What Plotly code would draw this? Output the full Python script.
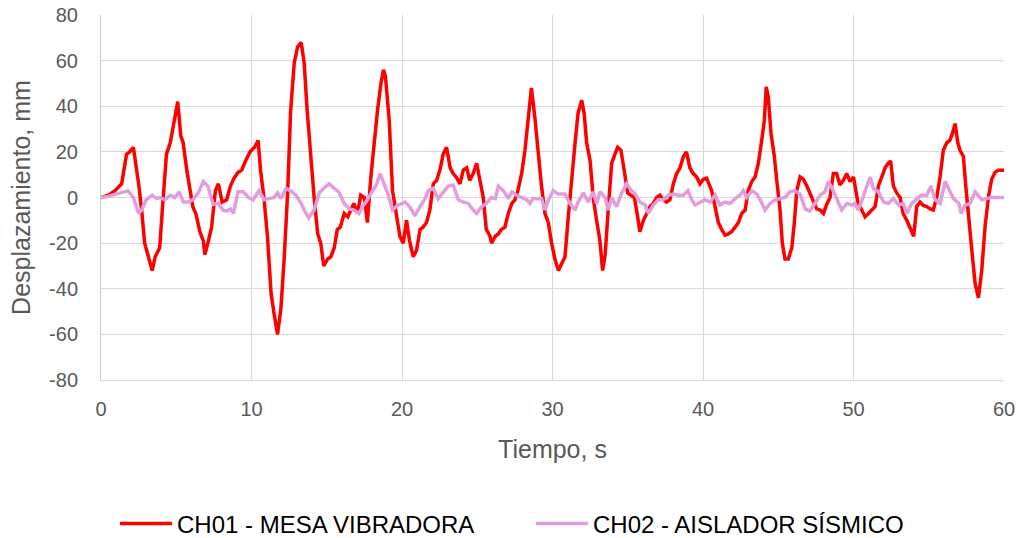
import plotly.graph_objects as go

# CH01 - MESA VIBRADORA
t_ch01 = [0, 0.5, 0.93, 1.37, 1.7, 1.9, 2.15, 2.3, 2.5, 2.7, 2.9, 3.15, 3.4, 3.6, 3.9, 4.1, 4.35, 4.6, 4.8, 5.0,
          5.1, 5.3, 5.46, 5.7, 5.9, 6.1, 6.3, 6.57, 6.8, 6.9, 7.1, 7.35, 7.6, 7.8, 8.05, 8.35, 8.6, 8.8, 9.1, 9.35,
          9.6, 9.9, 10.2, 10.44, 10.6, 10.84, 11.06, 11.3, 11.5, 11.73, 11.95, 12.17, 12.4, 12.6, 12.84, 13.06, 13.3, 13.5, 13.7, 13.94,
          14.16, 14.4, 14.6, 14.8, 15.05, 15.27, 15.5, 15.7, 15.9, 16.16, 16.4, 16.6, 16.8, 17.04, 17.26, 17.5, 17.7, 17.93, 18.15, 18.37,
          18.6, 18.77, 18.9, 19.15, 19.37, 19.6, 19.86, 20.08, 20.3, 20.5, 20.75, 20.97, 21.2, 21.4, 21.63, 21.85, 22.08, 22.3, 22.52, 22.74,
          22.96, 23.2, 23.4, 23.6, 23.85, 24.07, 24.3, 24.5, 24.73, 24.96, 25.2, 25.4, 25.6, 25.85, 25.95, 26.2, 26.4, 26.6, 26.84, 27.06,
          27.3, 27.5, 27.7, 27.95, 28.17, 28.4, 28.6, 28.83, 29.05, 29.27, 29.5, 29.72, 29.94, 30.16, 30.39, 30.6, 30.83, 31.05, 31.27, 31.5,
          31.7, 31.94, 32.1, 32.27, 32.5, 32.7, 32.93, 33.15, 33.33, 33.5, 33.7, 33.93, 34.15, 34.33, 34.55, 34.77, 35.0, 35.2, 35.44, 35.66,
          35.8, 36.04, 36.26, 36.48, 36.7, 36.92, 37.14, 37.36, 37.58, 37.8, 38.03, 38.25, 38.47, 38.7, 38.9, 39.13, 39.35, 39.58, 39.8, 40.02,
          40.24, 40.46, 40.58, 40.8, 41.02, 41.24, 41.46, 41.68, 41.9, 42.13, 42.35, 42.57, 42.8, 43.0, 43.24, 43.46, 43.68, 43.9, 44.08, 44.2,
          44.34, 44.52, 44.74, 44.9, 45.12, 45.27, 45.45, 45.67, 45.9, 46.07, 46.23, 46.45, 46.67, 46.9, 47.1, 47.33, 47.55, 47.78, 48.0, 48.22,
          48.44, 48.66, 48.88, 49.1, 49.33, 49.55, 49.77, 50.0, 50.15, 50.3, 50.55, 50.77, 51.0, 51.2, 51.43, 51.54, 51.65, 51.88, 52.1, 52.3,
          52.47, 52.65, 52.87, 53.1, 53.3, 53.54, 53.76, 54.0, 54.2, 54.42, 54.64, 54.87, 55.1, 55.3, 55.53, 55.75, 55.97, 56.2, 56.4, 56.57,
          56.75, 56.93, 57.08, 57.3, 57.46, 57.63, 57.86, 58.08, 58.3, 58.52, 58.74, 58.96, 59.18, 59.4, 59.63, 59.85, 60]
y_ch01 = [0, 1, 3, 6, 19, 20, 22, 16, 6, -5.5, -20, -26, -32, -26, -22, -3, 19, 24, 32, 38,
          42, 27, 24, 12, 5, -4, -7, -15, -19, -25, -20, -13, 3, 6, -2, -1, 5, 8, 11, 12,
          16, 20, 22, 25, 12, -1, -17, -42, -51, -60, -49, -27, 2, 38, 59, 66, 68, 59, 38, 16,
          0, -16, -20, -30, -27, -26, -22, -14, -13, -7, -8.5, -5.5, -2.6, -7, 1, 0, -11, 9, 24, 38,
          50, 56, 53, 34, 3, -5.5, -17, -20, -10, -19, -26, -23, -14, -13, -11, -5.5, 6, 7.5, 12, 19,
          22, 13, 10.5, 9, 6, 12, 13, 7.5, 10.5, 15, 6, 0, -14, -17, -20, -17, -16, -14, -13, -7,
          -2.6, -1, 3, 10.5, 20.7, 35, 48, 35, 18, 5, -7, -11, -20, -27, -32, -29, -26, -8.5, 9, 24,
          37, 42.6, 37, 24, 16, 0, -10, -19, -32, -25, -5.5, 15, 19, 22, 20.7, 10.5, 2, 1, 0, -8.5,
          -15, -10, -7, -4, -2.6, 0, 1, -1, -2, -1, 6, 10.5, 13, 18, 20, 13, 10.5, 9, 6, 8,
          8.5, 5, 3, -4, -11, -14, -16.5, -16, -15, -13, -11, -7, -5.5, 3, 7, 9, 15, 25, 34, 48.5,
          44, 28, 18, 7.5, -5.5, -20, -27, -27, -22, -11, 3, 9, 8, 5, 2, -1, -5, -5.5, -7, -3,
          0, 10.5, 10.5, 5.5, 7.5, 10.5, 7, 9, 3, -2.6, -5.5, -8.5, -7, -5.5, -4, 0, 5, 9, 13, 15,
          16, 5, 2, 0, -7, -10, -13, -17, -4, -2, -3.5, -4, -5, -5.5, 0, 9, 20.7, 24, 25, 28,
          32.4, 24, 20.7, 18, 5, -8.5, -23, -37.7, -44, -32, -13, 0, 8, 11, 12, 12, 12]

# CH02 - AISLADOR SÍSMICO
t_ch02 = [0, 0.5, 1.0, 1.6, 1.8, 2.15, 2.5, 2.7, 3.0, 3.4, 3.7, 3.9, 4.25, 4.6, 4.9, 5.2, 5.46, 5.8, 6.1, 6.46,
          6.8, 7.1, 7.45, 7.8, 8.1, 8.35, 8.6, 8.8, 9.1, 9.45, 9.8, 10.1, 10.5, 10.84, 11.17, 11.5, 11.73, 11.95, 12.3, 12.6,
          12.95, 13.3, 13.5, 13.8, 14.16, 14.5, 14.8, 15.16, 15.5, 15.8, 16.16, 16.5, 16.8, 17.15, 17.37, 17.7, 18.04, 18.26, 18.55, 18.8,
          19.04, 19.37, 19.7, 20.03, 20.2, 20.5, 20.86, 21.2, 21.5, 21.75, 22.08, 22.4, 22.74, 23.07, 23.4, 23.74, 24.07, 24.4, 24.73, 24.96,
          25.3, 25.6, 25.95, 26.2, 26.4, 26.73, 27.06, 27.3, 27.6, 27.95, 28.3, 28.5, 28.7, 29.05, 29.27, 29.5, 29.7, 30.05, 30.38, 30.6,
          30.83, 31.16, 31.5, 31.7, 32.05, 32.38, 32.7, 32.93, 33.15, 33.5, 33.7, 33.93, 34.26, 34.6, 34.93, 35.26, 35.5, 35.8, 36.15, 36.37,
          36.7, 37.03, 37.36, 37.7, 38.03, 38.36, 38.7, 39.0, 39.25, 39.47, 39.8, 40.13, 40.47, 40.8, 41.13, 41.46, 41.8, 42.13, 42.46, 42.68,
          42.9, 43.24, 43.57, 43.8, 44.12, 44.45, 44.8, 45.12, 45.45, 45.78, 46.1, 46.45, 46.8, 47.1, 47.44, 47.78, 48.1, 48.33, 48.55, 48.88,
          49.22, 49.55, 49.88, 50.1, 50.3, 50.55, 50.77, 51.1, 51.32, 51.65, 52.0, 52.3, 52.65, 53.0, 53.3, 53.54, 53.87, 54.2, 54.5, 54.87,
          55.15, 55.42, 55.75, 56.1, 56.3, 56.64, 57.0, 57.15, 57.4, 57.75, 58.08, 58.3, 58.52, 58.85, 59.18, 59.63, 60]
y_ch02 = [0, 0.5, 1.5, 2.5, 3, 0, -7, -5.5, -1, 1, -0.5, 0, -1, 1, 0, 2.5, -2, -2, -1, 2,
          7, 5, -3, -2.5, -5.5, -6, -5, -7, 2.5, 2.5, 0, -1, 3, -1, -0.5, 0, 2, -0.5, 4, 3,
          1, -2.6, -5.5, -9, -5.5, 2, 4, 6, 4, 2.5, -2.6, -5, -5.5, -7, -4, -1, 3, 5, 10.5, 6,
          2, -5.5, -3.5, -2.6, -2, -4, -8, -4, -1, 3, 4, -0.5, 2.5, 5, 5.5, -1, -2, -2.6, -5.5, -7,
          -4, -2.6, 0, -0.5, 5, 3, -0.5, 2.5, 1, 0, -1, -2.6, -0.5, -0.5, -0.5, -5.5, -1.5, 3, 1.5, 1.5,
          1.5, -2.6, -5.5, -2, 2, -2, 2.5, -2.6, 2.5, 0, -5.5, 0, -4, 2, 6, 3, 1.5, -2, -3.3, -7,
          -3.3, -1, -1, 1, 1.5, 1, 1, 3, -1, -3.3, -2, -1, -2, 1, -3.3, -2, -2.6, -0.5, 1, 3,
          0, 3, 1.5, -1, -5.5, -2.6, -1, -0.5, 0, 2.5, 3, 1.5, -5, -6, -2.6, 1, 2.5, 7, 4.5, -0.5,
          -5.5, -2.6, -3.3, -2.6, -5.5, -1.5, 3, 9, 4, 2.5, -2, -2.6, -0.5, -3.3, -2.6, -7, -2.6, -0.5, 1, 1,
          5, -1, -2.6, 7, 4, -0.5, -2.6, -7, -3.5, -2.6, 2.5, 1, -1, -0.5, 0, 0, 0]

x_ticks = [0, 10, 20, 30, 40, 50, 60]
y_ticks = [-80, -60, -40, -20, 0, 20, 40, 60, 80]
y_tick_labels = ["-80", "-60", "-40", "-20", "0", "20", "40", "60", "80"]

FONT = "Liberation Sans, Arial, sans-serif"

fig = go.Figure()
fig.add_trace(go.Scatter(x=t_ch01, y=y_ch01, mode="lines", name="CH01 - MESA VIBRADORA",
                         line=dict(color="#FF0000", width=3.5)))
fig.add_trace(go.Scatter(x=t_ch02, y=y_ch02, mode="lines", name="CH02 - AISLADOR SÍSMICO",
                         line=dict(color="#E29EDC", width=3.5)))

fig.update_layout(
    width=1021, height=538,
    margin=dict(l=101, r=17, t=15, b=158),
    paper_bgcolor="white", plot_bgcolor="white",
    font=dict(family=FONT, size=20, color="#595959"),
    legend=dict(orientation="h", xref="container", yref="container",
                x=0.1126, xanchor="left", y=0.026, yanchor="middle",
                font=dict(family=FONT, size=24, color="#000000"),
                itemwidth=52, entrywidth=349, entrywidthmode="pixels", tracegroupgap=0),
    showlegend=True,
)
fig.update_xaxes(range=[0, 60], tickvals=x_ticks, showgrid=True, gridcolor="#D9D9D9", gridwidth=1,
                 showline=True, linecolor="#D9D9D9", linewidth=1, zeroline=False, ticks="",
                 automargin=False, ticklabelstandoff=11, ticklabeloverflow="allow",
                 title=dict(text="Tiempo, s", font=dict(size=25, color="#595959"), standoff=21))
fig.update_yaxes(range=[-80, 80], tickvals=y_ticks, ticktext=y_tick_labels, showgrid=True,
                 gridcolor="#D9D9D9", gridwidth=1,
                 showline=True, linecolor="#CCCCCC", linewidth=1, zeroline=True, zerolinecolor="#D9D9D9",
                 zerolinewidth=1, ticks="", automargin=False, ticklabelstandoff=18,
                 ticklabeloverflow="allow",
                 title=dict(text="Desplazamiento, mm", font=dict(size=25, color="#595959"), standoff=11))

# remove the default page margin so the 1021x538 figure fills the window exactly
fig.write_html("out.html", config={"displayModeBar": False},
               post_script="document.body.style.margin='0';document.body.style.overflow='hidden';")
